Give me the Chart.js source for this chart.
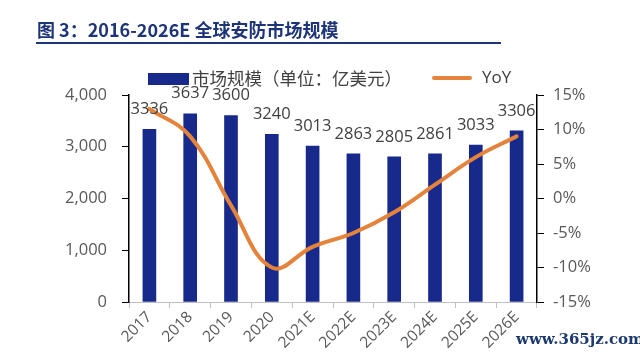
<!DOCTYPE html>
<html>
<head>
<meta charset="utf-8">
<script src="https://cdn.jsdelivr.net/npm/chart.js@4/dist/chart.umd.min.js"></script>
<style>
  html, body { margin: 0; padding: 0; background: #fff; }
  #wrap { width: 640px; height: 353px; position: relative; }
</style>
</head>
<body>
<div id="wrap"><canvas id="chart" width="640" height="353"></canvas></div>
<script>
// 数据
const years = ["2017", "2018", "2019", "2020", "2021E", "2022E", "2023E", "2024E", "2025E", "2026E"];
const marketSize = [3336, 3637, 3600, 3240, 3013, 2863, 2805, 2861, 3033, 3306];
const yoy = [13, 9, -1, -10, -7, -5, -2, 2, 6, 9];
const leftTicks = [0, 1000, 2000, 3000, 4000];
const rightTicks = [-15, -10, -5, 0, 5, 10, 15];

const BLUE = "#172a8c";
const ORANGE = "#e4843c";
const GRAY = "#595959";

// 标题、图例、数据标签、水印
const decorPlugin = {
  id: "decor",
  afterDatasetsDraw(chart) {
    const ctx = chart.ctx;
    const meta = chart.getDatasetMeta(1);
    ctx.save();
    ctx.font = "16.5px 'Open Sans', 'Noto Sans', sans-serif";
    ctx.fillStyle = "#404040";
    ctx.textAlign = "center";
    ctx.textBaseline = "middle";
    meta.data.forEach((bar, i) => {
      ctx.fillText(String(marketSize[i]), bar.x, bar.y - 20);
    });
    ctx.restore();
  },
  afterDraw(chart) {
    const ctx = chart.ctx;
    ctx.save();
    // 标题
    ctx.fillStyle = "#1d3578";
    ctx.textBaseline = "middle";
    ctx.textAlign = "left";
    ctx.font = "bold 18px 'Noto Sans CJK SC', sans-serif";
    ctx.fillText("图 3：2016-2026E 全球安防市场规模", 37, 30);
    ctx.fillRect(36, 42, 465, 2);

    // 图例
    ctx.fillStyle = BLUE;
    ctx.fillRect(148, 73, 41, 12);
    ctx.fillStyle = "#404040";
    ctx.font = "17.5px 'Noto Sans CJK SC', sans-serif";
    ctx.fillText("市场规模（单位：亿美元）", 192, 78);
    ctx.strokeStyle = ORANGE;
    ctx.lineWidth = 4;
    ctx.lineCap = "round";
    ctx.beginPath();
    ctx.moveTo(434, 78);
    ctx.lineTo(470, 78);
    ctx.stroke();
    ctx.font = "17px 'Open Sans', 'Noto Sans', sans-serif";
    ctx.fillText("YoY", 482, 78);

    // 水印
    ctx.fillStyle = "#1d3a6e";
    ctx.font = "bold 15px 'DejaVu Serif', serif";
    ctx.fillText("www.365jz.com", 516, 340);
    ctx.restore();
  }
};

new Chart(document.getElementById("chart"), {
  data: {
    labels: years,
    datasets: [
      {
        type: "line",
        label: "YoY",
        data: yoy,
        yAxisID: "y1",
        borderColor: ORANGE,
        borderWidth: 4,
        pointRadius: 0,
        tension: 0.4,
        borderCapStyle: "round",
        order: 0
      },
      {
        type: "bar",
        label: "市场规模（单位：亿美元）",
        data: marketSize,
        yAxisID: "y",
        backgroundColor: BLUE,
        barThickness: 13,
        order: 1
      }
    ]
  },
  options: {
    responsive: false,
    animation: false,
    layout: { padding: { top: 95, left: 0, right: 0, bottom: 0 } },
    plugins: {
      legend: { display: false },
      tooltip: { enabled: false }
    },
    scales: {
      x: {
        afterFit(s) { s.height = 51; },
        grid: { drawOnChartArea: false, color: "#bfbfbf", tickLength: 6, offset: true },
        border: { color: "#bfbfbf", width: 1 },
        ticks: {
          color: GRAY,
          font: { size: 15.5, family: "'Open Sans', 'Noto Sans', sans-serif" },
          minRotation: 45,
          maxRotation: 45,
          padding: 0
        }
      },
      y: {
        position: "left",
        min: 0,
        max: 4000,
        afterFit(s) { s.width = 129; },
        afterBuildTicks(s) { s.ticks = leftTicks.map(v => ({ value: v })); },
        grid: { drawOnChartArea: false, color: "#000", tickLength: 7 },
        border: { color: "#000", width: 1.5 },
        ticks: {
          color: GRAY,
          padding: 15,
          font: { size: 16.5, family: "'Open Sans', 'Noto Sans', sans-serif" },
          callback: v => v.toLocaleString("en-US")
        }
      },
      y1: {
        position: "right",
        min: -15,
        max: 15,
        afterFit(s) { s.width = 103; },
        afterBuildTicks(s) { s.ticks = rightTicks.map(v => ({ value: v })); },
        grid: { drawOnChartArea: false, color: "#000", tickLength: 7 },
        border: { color: "#000", width: 1.5 },
        ticks: {
          color: GRAY,
          padding: 9,
          font: { size: 16.5, family: "'Open Sans', 'Noto Sans', sans-serif" },
          callback: v => v + "%"
        }
      }
    }
  },
  plugins: [decorPlugin]
});
</script>
</body>
</html>
